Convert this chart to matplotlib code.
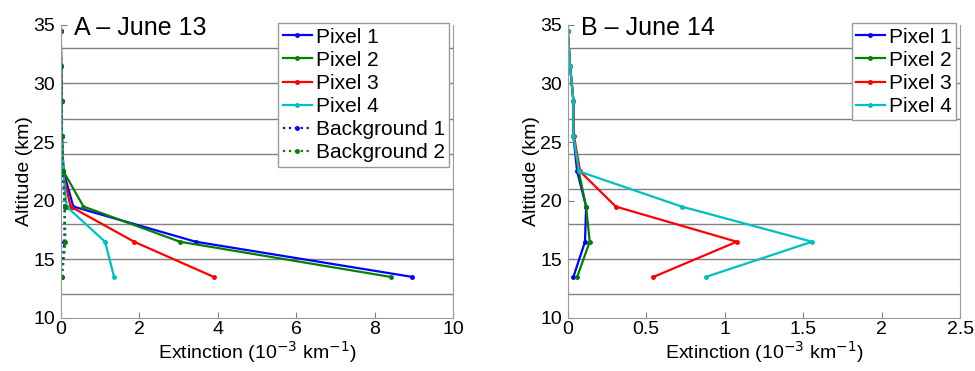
import numpy as np
import matplotlib
matplotlib.use("Agg")
from matplotlib import pyplot as plt

plt.rcParams['font.family'] = ['Liberation Sans', 'DejaVu Sans']

# altitudes (km), layer midpoints
alt = [13.5, 16.5, 19.5, 22.5, 25.5, 28.5, 31.5, 34.5]
layer_edges = [12, 15, 18, 21, 24, 27, 30, 33]

# A - June 13, extinction (10^-3 km^-1)
a_pix1 = [8.96, 3.44, 0.32, 0.07, 0.03, 0.02, 0.01, 0.0]
a_pix2 = [8.41, 3.04, 0.58, 0.07, 0.03, 0.02, 0.01, 0.0]
a_pix3 = [3.90, 1.87, 0.25, 0.05, 0.03, 0.02, 0.01, 0.0]
a_pix4 = [1.36, 1.13, 0.15, 0.06, 0.03, 0.02, 0.01, 0.0]
a_bg1 = [0.02, 0.09, 0.10, 0.05, 0.02, 0.02, 0.01, 0.0]
a_bg2 = [0.03, 0.12, 0.10, 0.07, 0.02, 0.02, 0.01, 0.0]

# B - June 14
b_pix1 = [0.036, 0.11, 0.117, 0.06, 0.036, 0.036, 0.015, 0.0]
b_pix2 = [0.06, 0.14, 0.117, 0.07, 0.036, 0.036, 0.015, 0.0]
b_pix3 = [0.546, 1.077, 0.306, 0.079, 0.04, 0.036, 0.015, 0.0]
b_pix4 = [0.88, 1.557, 0.726, 0.072, 0.036, 0.036, 0.015, 0.0]

blue, green, red, cyan = '#0000ff', '#008000', '#ff0000', '#00bfbf'

fig = plt.figure(figsize=(9.75, 3.71), dpi=100)
ax1 = fig.add_axes([0.0623, 0.143, 0.4024, 0.79])
ax2 = fig.add_axes([0.5823, 0.143, 0.4024, 0.79])


def style(ax, xmax, xticks, title):
    for y in layer_edges:
        ax.axhline(y, color='#808080', lw=1.0, zorder=0)
    ax.set_xlim(0, xmax)
    ax.set_ylim(10, 35)
    ax.set_xticks(xticks)
    ax.set_xticklabels([('%g' % t) for t in xticks])
    ax.set_yticks([10, 15, 20, 25, 30, 35])
    ax.tick_params(direction='in', labelsize=14, length=4, color='#808080')
    ax.tick_params(axis='x', pad=2)
    ax.tick_params(axis='y', pad=4)
    ax.spines['top'].set_visible(False)
    for s in ['left', 'bottom', 'right']:
        ax.spines[s].set_color('#9a9a9a')
    ax.set_xlabel('Extinction (10$^{-3}$ km$^{-1}$)', fontsize=14, labelpad=1)
    ax.set_ylabel('Altitude (km)', fontsize=14, labelpad=0)
    ax.text(0.035, 0.99, title, transform=ax.transAxes, fontsize=18,
            va='center', ha='left')


kw = dict(marker='.', ms=5, lw=1.6)
ax1.plot(a_pix1, alt, color=blue, label='Pixel 1', **kw)
ax1.plot(a_pix2, alt, color=green, label='Pixel 2', **kw)
ax1.plot(a_pix3, alt, color=red, label='Pixel 3', **kw)
ax1.plot(a_pix4, alt, color=cyan, label='Pixel 4', **kw)
ax1.plot(a_bg1, alt, color=blue, ls=':', label='Background 1', **kw)
ax1.plot(a_bg2, alt, color=green, ls=':', label='Background 2', **kw)
style(ax1, 10, [0, 2, 4, 6, 8, 10], 'A \u2013 June 13')

ax2.plot(b_pix1, alt, color=blue, label='Pixel 1', **kw)
ax2.plot(b_pix2, alt, color=green, label='Pixel 2', **kw)
ax2.plot(b_pix3, alt, color=red, label='Pixel 3', **kw)
ax2.plot(b_pix4, alt, color=cyan, label='Pixel 4', **kw)
style(ax2, 2.5, [0, 0.5, 1, 1.5, 2, 2.5], 'B \u2013 June 14')

for ax in (ax1, ax2):
    leg = ax.legend(loc='upper right', bbox_to_anchor=(0.99, 1.005), fontsize=15,
                    handlelength=1.4, handletextpad=0.2, labelspacing=0.2,
                    borderpad=0.2, borderaxespad=0, fancybox=False, framealpha=1)
    leg.get_frame().set_edgecolor('#9a9a9a')

fig.savefig('out.png', dpi=100)
